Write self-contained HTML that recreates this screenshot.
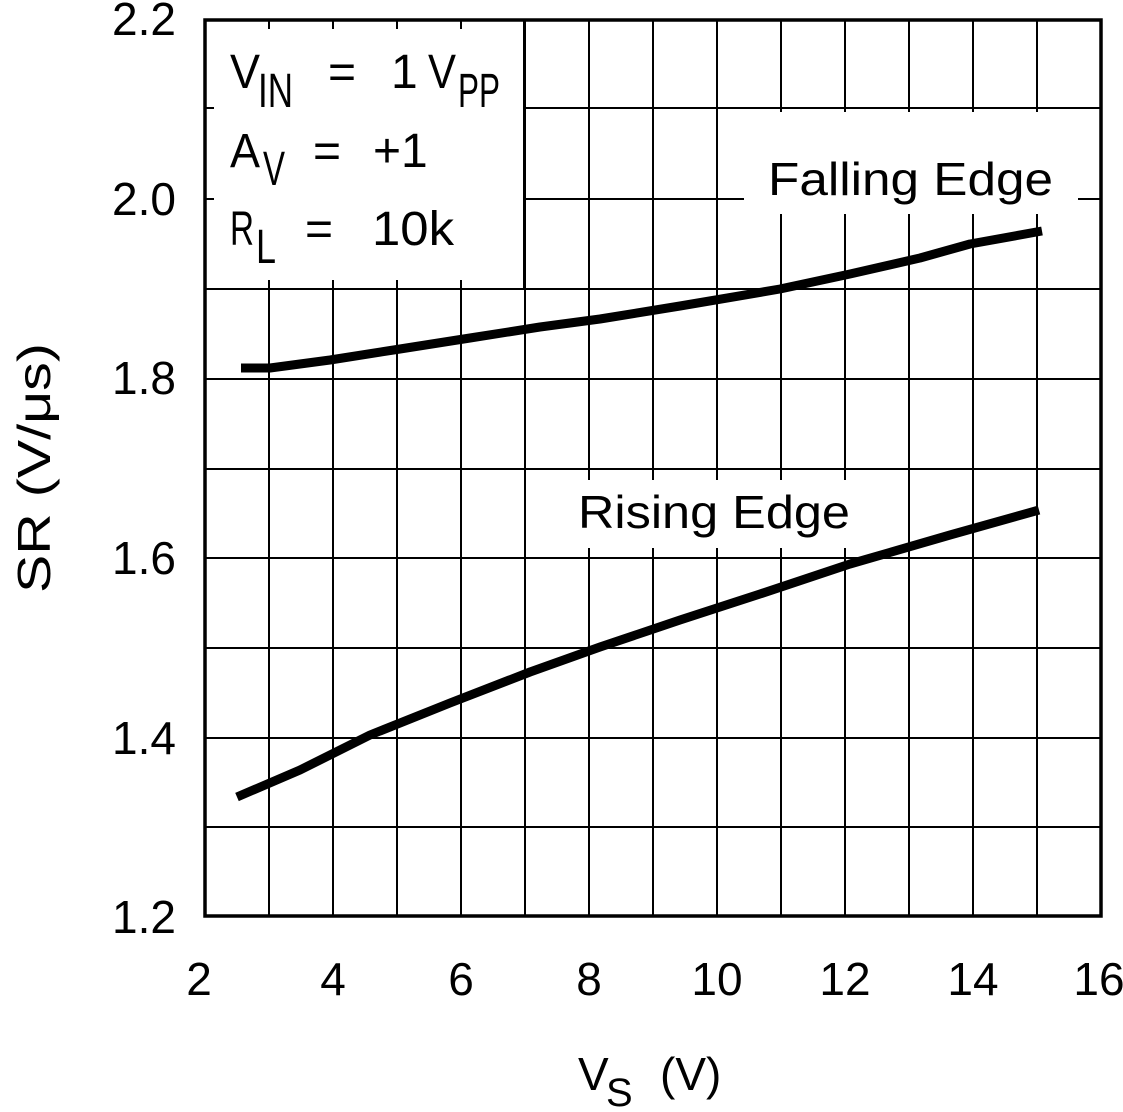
<!DOCTYPE html>
<html><head><meta charset="utf-8"><style>
html,body{margin:0;padding:0;background:#fff;}
svg{display:block;}
text{font-family:"Liberation Sans","DejaVu Sans",sans-serif;fill:#000;}
</style></head><body>
<svg width="1123" height="1112" viewBox="0 0 1123 1112" xmlns="http://www.w3.org/2000/svg">
<g stroke="#000" stroke-width="2">
<path d="M269 20V916M333 20V916M397 20V916M461 20V916M525 20V916M589 20V916M653 20V916M717 20V916M781 20V916M845 20V916M909 20V916M973 20V916M1037 20V916"/>
<path d="M205 108H1101M205 199H1101M205 289H1101M205 379H1101M205 469H1101M205 558H1101M205 648H1101M205 738H1101M205 827H1101"/>
</g>
<rect x="207" y="22" width="317" height="267" fill="#fff"/>
<rect x="744" y="112" width="334" height="111" fill="#fff"/>
<rect x="560" y="471" width="298" height="86" fill="#fff"/>
<g stroke="#000" stroke-width="2">
<path d="M269 20v9M333 20v9M397 20v9M461 20v9M205 108h9M205 199h9M269 289v-9M333 289v-9M397 289v-9M461 289v-9M524 20V289M205 289H524"/>
<path d="M589 557v-9M653 557v-9M717 557v-9M781 557v-9M845 557v-9M589 471v9M653 471v9M717 471v9M781 471v9M845 471v9"/>
<path d="M781 223v-9M845 223v-9M909 223v-9M973 223v-9M1037 223v-9"/>
</g>
<rect x="205" y="20" width="896" height="896" fill="none" stroke="#000" stroke-width="3.5"/>
<polyline fill="none" stroke="#000" stroke-width="9" stroke-linejoin="round" points="241,368 270,368 330,360 400,349 470,338 540,327 600,319 680,306 780,289 850,274 920,258 970,244 1042,231"/>
<polyline fill="none" stroke="#000" stroke-width="9" stroke-linejoin="round" points="237,797 300,770 370,735 450,703 530,672 600,647 680,620 760,594 850,564 950,535 1039,510"/>
<text x="768" y="195" font-size="46" textLength="285" lengthAdjust="spacingAndGlyphs">Falling Edge</text>
<text x="578" y="528" font-size="46" textLength="272" lengthAdjust="spacingAndGlyphs">Rising Edge</text>
<g font-size="48">
<text x="230" y="88" textLength="30" lengthAdjust="spacingAndGlyphs">V</text><text x="258" y="107" textLength="35" lengthAdjust="spacingAndGlyphs">IN</text>
<text x="328" y="88">=</text><text x="391" y="88">1</text><text x="428" y="88" textLength="28" lengthAdjust="spacingAndGlyphs">V</text><text x="458" y="107" textLength="42" lengthAdjust="spacingAndGlyphs">PP</text>
<text x="230" y="167" textLength="30" lengthAdjust="spacingAndGlyphs">A</text><text x="263" y="185" textLength="22" lengthAdjust="spacingAndGlyphs">V</text><text x="313" y="167">=</text><text x="373" y="167">+1</text>
<text x="230" y="245" textLength="24" lengthAdjust="spacingAndGlyphs">R</text><text x="256" y="263" textLength="20" lengthAdjust="spacingAndGlyphs">L</text><text x="305" y="245">=</text><text x="372" y="245" textLength="82" lengthAdjust="spacingAndGlyphs">10k</text>
</g>
<g font-size="46" text-anchor="end">
<text x="176" y="35">2.2</text><text x="176" y="215">2.0</text><text x="176" y="394">1.8</text><text x="176" y="574">1.6</text><text x="176" y="754">1.4</text><text x="176" y="933">1.2</text>
</g>
<g font-size="46" text-anchor="middle">
<text x="199" y="995">2</text><text x="333" y="995">4</text><text x="461" y="995">6</text><text x="589" y="995">8</text><text x="717" y="995">10</text><text x="845" y="995">12</text><text x="973" y="995">14</text><text x="1099" y="995">16</text>
</g>
<text x="578" y="1090" font-size="46">V</text><text x="606" y="1106" font-size="40">S</text><text x="660" y="1090" font-size="46">(V)</text>
<text transform="translate(50,468) rotate(-90)" text-anchor="middle" font-size="46" textLength="250" lengthAdjust="spacingAndGlyphs">SR (V/μs)</text>
</svg>
</body></html>
